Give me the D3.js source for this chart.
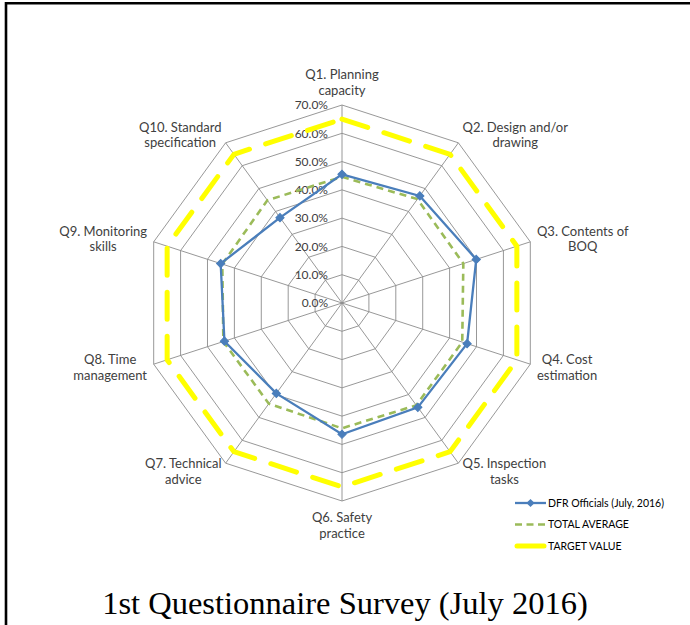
<!DOCTYPE html>
<html>
<head>
<meta charset="utf-8">
<script src="https://cdn.jsdelivr.net/npm/d3@7"></script>
<style>
  body { margin: 0; background: #fff; }
  text { font-family: Lato, "Open Sans", sans-serif; fill: #404040; }
</style>
</head>
<body>
<svg id="chart" width="690" height="625"></svg>
<script>
// categories (line breaks as in the picture)
const categories = [
    'Q1. Planning\ncapacity',
    'Q2. Design and/or\ndrawing',
    'Q3. Contents of\nBOQ',
    'Q4. Cost\nestimation',
    'Q5. Inspection\ntasks',
    'Q6. Safety\npractice',
    'Q7. Technical\nadvice',
    'Q8. Time\nmanagement',
    'Q9. Monitoring\nskills',
    'Q10. Standard\nspecification'
];
const dfrOfficials = [0.455, 0.468, 0.499, 0.465, 0.456, 0.464, 0.395, 0.437, 0.451, 0.373];
const totalAverage = [0.446, 0.454, 0.451, 0.447, 0.447, 0.443, 0.44, 0.441, 0.445, 0.449];
const targetValue = [0.65, 0.65, 0.65, 0.65, 0.65, 0.65, 0.65, 0.65, 0.65, 0.65];
const tickValues = [0, 0.1, 0.2, 0.3, 0.4, 0.5, 0.6, 0.7];
const seriesNames = ['DFR Officials (July, 2016)', 'TOTAL AVERAGE', 'TARGET VALUE'];
const chartTitle = '1st Questionnaire Survey (July 2016)';

const cx = 342, cy = 303;
const svg = d3.select('#chart');

// frame (left and top edges visible)
svg.append('path')
    .attr('d', 'M6,625V3.3H690')
    .style('fill', 'none')
    .style('stroke', '#000')
    .style('stroke-width', 2.6);

const rScale = d3.scaleLinear().domain([0, 0.7]).range([0, 198]);
const angle = d3.scaleLinear().domain([0, categories.length]).range([0, 2 * Math.PI]);

const g = svg.append('g').attr('transform', `translate(${cx},${cy})`);

const pt = (i, v) => [Math.sin(angle(i)) * rScale(v), -Math.cos(angle(i)) * rScale(v)];

// rings
const ringLine = d3.line();
tickValues.slice(1).forEach(t => {
    const pts = categories.map((c, i) => pt(i, t));
    g.append('path')
        .attr('d', ringLine(pts) + 'Z')
        .style('fill', 'none')
        .style('stroke', '#8c8c8c')
        .style('stroke-width', 0.9);
});

// spokes
categories.forEach((c, i) => {
    const p = pt(i, 0.7);
    g.append('line')
        .attr('x1', 0).attr('y1', 0)
        .attr('x2', p[0]).attr('y2', p[1])
        .style('stroke', '#8c8c8c')
        .style('stroke-width', 0.9);
});

// tick labels
g.selectAll('.tick-label')
    .data(tickValues)
    .enter().append('text')
    .classed('tick-label', true)
    .attr('x', -14)
    .attr('y', d => -rScale(d))
    .attr('dy', '0.35em')
    .attr('text-anchor', 'end')
    .style('font-size', '12px')
    .text(d => d3.format('.1%')(d));

// category labels
categories.forEach((c, i) => {
    const a = angle(i);
    const s = Math.sin(a), co = -Math.cos(a);
    const p = pt(i, 0.7);
    const x = p[0] + s * 7;
    const y = p[1] + co * 7;
    const lines = c.split('\n');
    const lh = 15.5;
    let anchor = 'middle';
    if (s > 0.1) anchor = 'start';
    if (s < -0.1) anchor = 'end';
    let top;
    if (co < -0.9) top = y - lines.length * lh;
    else if (co > 0.9) top = y + 2;
    else top = y - lines.length * lh / 2 + co * 3;
    const t = g.append('text')
        .attr('text-anchor', anchor)
        .style('font-size', '13px');
    lines.forEach((ln, k) => {
        t.append('tspan')
            .attr('x', x)
            .attr('y', top + lh * k + lh * 0.5)
            .attr('dy', '0.35em')
            .text(ln);
    });
});

// side labels: each line centred in the label box
g.selectAll('text').filter(function () { return this.childNodes.length > 1; })
    .each(function () {
        const el = d3.select(this);
        const anchor = el.attr('text-anchor');
        if (anchor === 'middle') return;
        const tspans = el.selectAll('tspan');
        const widths = tspans.nodes().map(n => n.getComputedTextLength());
        const w = d3.max(widths);
        const x0 = +tspans.attr('x');
        const mid = anchor === 'start' ? x0 + w / 2 : x0 - w / 2;
        el.attr('text-anchor', 'middle');
        tspans.attr('x', mid);
    });

const radar = d3.line()
    .x((d, i) => pt(i, d)[0])
    .y((d, i) => pt(i, d)[1]);

// target
g.append('path')
    .attr('d', radar(targetValue) + 'Z')
    .style('fill', 'none')
    .style('stroke', '#ffff00')
    .style('stroke-width', 5)
    .style('stroke-dasharray', '27,17')
    .style('stroke-linecap', 'round');

// total average
g.append('path')
    .attr('d', radar(totalAverage) + 'Z')
    .style('fill', 'none')
    .style('stroke', '#9bbb59')
    .style('stroke-width', 2.6)
    .style('stroke-dasharray', '7,5');

// DFR officials
g.append('path')
    .attr('d', radar(dfrOfficials) + 'Z')
    .style('fill', 'none')
    .style('stroke', '#4a7ebb')
    .style('stroke-width', 2.3);

const diamond = d3.symbol().type(d3.symbolSquare).size(34);
g.selectAll('.dot')
    .data(dfrOfficials)
    .enter().append('path')
    .classed('dot', true)
    .attr('d', diamond)
    .attr('transform', (d, i) => `translate(${pt(i, d)[0]},${pt(i, d)[1]}) rotate(45)`)
    .style('fill', '#4a7ebb')
    .style('stroke', '#4a7ebb');

// legend
const legend = svg.append('g').attr('transform', 'translate(515,503)');
const legendStyles = [
    { stroke: '#4a7ebb', width: 2.3, dash: null, marker: true },
    { stroke: '#9bbb59', width: 2.6, dash: '7,4.5', marker: false },
    { stroke: '#ffff00', width: 5, dash: null, marker: false, cap: 'round' }
];
seriesNames.forEach((name, i) => {
    const st = legendStyles[i];
    const row = legend.append('g').attr('transform', `translate(0,${i * 21.5})`);
    row.append('line')
        .attr('x1', st.cap ? 2 : 0).attr('x2', st.cap ? 29 : 31)
        .attr('y1', 0).attr('y2', 0)
        .style('stroke', st.stroke)
        .style('stroke-width', st.width)
        .style('stroke-linecap', st.cap || 'butt')
        .style('stroke-dasharray', st.dash);
    if (st.marker) {
        row.append('path')
            .attr('d', diamond)
            .attr('transform', 'translate(15.5,0) rotate(45)')
            .style('fill', st.stroke);
    }
    row.append('text')
        .attr('x', 33)
        .attr('y', 0)
        .attr('dy', '0.35em')
        .style('font-size', '10.5px')
        .style('fill', '#000')
        .text(name);
});

// title
svg.append('text')
    .attr('x', 345)
    .attr('y', 614)
    .attr('text-anchor', 'middle')
    .style('font-family', '"Liberation Serif", "Times New Roman", serif')
    .style('font-size', '32.5px')
    .style('fill', '#000')
    .text(chartTitle);
</script>
</body>
</html>
